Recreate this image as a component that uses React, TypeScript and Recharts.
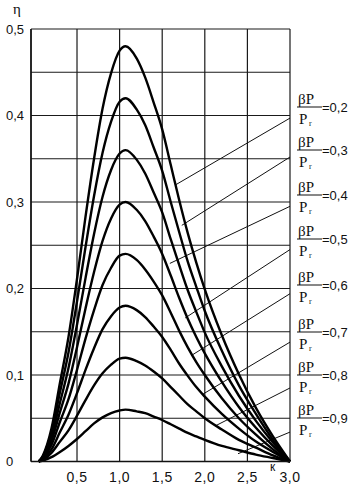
import React from 'react';
import { LineChart, Line, XAxis, YAxis, CartesianGrid, ReferenceLine } from 'recharts';

const kValues = [0.05, 0.1, 0.2, 0.3, 0.4, 0.5, 0.6, 0.7, 0.8, 0.9, 1.0, 1.07, 1.2, 1.3, 1.4, 1.5, 1.6, 1.7, 1.8, 1.9, 2.0, 2.2, 2.4, 2.6, 2.8, 3.0];

const eta02 = [0, 0.007, 0.038, 0.091, 0.144, 0.211, 0.283, 0.350, 0.408, 0.449, 0.475, 0.480, 0.466, 0.444, 0.415, 0.384, 0.343, 0.302, 0.264, 0.230, 0.199, 0.146, 0.101, 0.062, 0.029, 0];
const eta03 = [0, 0.006, 0.034, 0.080, 0.126, 0.185, 0.248, 0.307, 0.357, 0.393, 0.416, 0.420, 0.407, 0.389, 0.363, 0.336, 0.300, 0.265, 0.231, 0.202, 0.174, 0.128, 0.088, 0.055, 0.025, 0];
const eta04 = [0, 0.005, 0.029, 0.068, 0.108, 0.158, 0.212, 0.263, 0.306, 0.337, 0.356, 0.360, 0.349, 0.333, 0.311, 0.288, 0.257, 0.227, 0.198, 0.173, 0.149, 0.110, 0.076, 0.047, 0.022, 0];
const eta05 = [0, 0.005, 0.024, 0.057, 0.090, 0.132, 0.177, 0.219, 0.255, 0.281, 0.297, 0.300, 0.291, 0.278, 0.260, 0.240, 0.215, 0.189, 0.165, 0.144, 0.125, 0.092, 0.063, 0.039, 0.018, 0];
const eta06 = [0, 0.004, 0.019, 0.046, 0.072, 0.106, 0.142, 0.175, 0.204, 0.224, 0.238, 0.240, 0.233, 0.222, 0.208, 0.192, 0.172, 0.151, 0.132, 0.115, 0.100, 0.073, 0.050, 0.031, 0.014, 0];
const eta07 = [0, 0.003, 0.014, 0.034, 0.054, 0.079, 0.106, 0.131, 0.153, 0.168, 0.178, 0.180, 0.175, 0.167, 0.156, 0.144, 0.129, 0.113, 0.099, 0.086, 0.075, 0.055, 0.038, 0.023, 0.011, 0];
const eta08 = [0, 0.002, 0.010, 0.023, 0.036, 0.053, 0.071, 0.088, 0.102, 0.112, 0.119, 0.120, 0.116, 0.111, 0.104, 0.096, 0.086, 0.076, 0.066, 0.058, 0.050, 0.037, 0.025, 0.016, 0.007, 0];
const eta09 = [0, 0.001, 0.005, 0.011, 0.018, 0.026, 0.035, 0.044, 0.051, 0.056, 0.059, 0.060, 0.058, 0.056, 0.052, 0.048, 0.043, 0.038, 0.033, 0.029, 0.025, 0.018, 0.013, 0.008, 0.004, 0];

const seriesList = [eta02, eta03, eta04, eta05, eta06, eta07, eta08, eta09];
const ratioLabels = ['0,2', '0,3', '0,4', '0,5', '0,6', '0,7', '0,8', '0,9'];

// leader lines: start on the right border (k = 3.0), end on the curve
const leaderStartY = [0.397, 0.352, 0.295, 0.245, 0.194, 0.138, 0.085, 0.034];
const leaderEndK = [1.66, 1.73, 1.59, 1.77, 1.85, 1.98, 2.12, 2.39];
const leaderEndY = [0.320, 0.273, 0.229, 0.166, 0.123, 0.078, 0.041, 0.009];

const xTicks = [0.5, 1.0, 1.5, 2.0, 2.5, 3.0];
const yTicks = [0, 0.05, 0.1, 0.15, 0.2, 0.25, 0.3, 0.35, 0.4, 0.45, 0.5];

const data = kValues.map((k, i) => {
  const row: any = { k };
  seriesList.forEach((s, j) => { row['s' + j] = s[i]; });
  return row;
});

const fmt = (v: number) => (v === 0 ? '0' : v.toFixed(1).replace('.', ','));

const sans = 'Liberation Sans, Arial, sans-serif';
const serif = 'Liberation Serif, Times New Roman, serif';

const YTick = (props: any) => {
  const { y, payload } = props;
  const v = payload.value;
  if (Math.round(v * 100) % 10 !== 0) return null;
  return (
    <text x={6} y={y + 4.5} fontSize={13} fontFamily={sans} fill="#111">
      {fmt(v)}
    </text>
  );
};

const XTick = (props: any) => {
  const { x, y, payload } = props;
  return (
    <text x={x} y={y + 12} textAnchor="middle" fontSize={14} fontFamily={sans} fill="#111" letterSpacing={0.5}>
      {payload.value.toFixed(1).replace('.', ',')}
    </text>
  );
};

export default function App() {
  const labelYs = [107, 150, 195, 239, 285, 332, 375, 418];
  return (
    <div style={{ position: 'absolute', left: 0, top: 0, width: 356, height: 488, background: '#fff' }}>
      <LineChart width={356} height={488} data={data} margin={{ top: 29, right: 66, bottom: 0, left: 0 }}>
        <CartesianGrid stroke="#1a1a1a" strokeWidth={1.2} horizontal={true} vertical={true} />
        <XAxis
          dataKey="k"
          type="number"
          domain={[-0.04, 3.0]}
          ticks={xTicks}
          tickLine={false}
          axisLine={{ stroke: '#111', strokeWidth: 1.5 }}
          height={26.5}
          tick={<XTick />}
          interval={0}
        />
        <YAxis
          type="number"
          domain={[0, 0.5]}
          ticks={yTicks}
          tickLine={false}
          axisLine={{ stroke: '#111', strokeWidth: 1.5 }}
          width={31}
          tick={<YTick />}
          interval={0}
        />
        {leaderStartY.map((ys, i) => (
          <ReferenceLine
            key={'ld' + i}
            segment={[{ x: 3.0, y: ys }, { x: leaderEndK[i], y: leaderEndY[i] }]}
            stroke="#111"
            strokeWidth={1}
            ifOverflow="visible"
          />
        ))}
        {seriesList.map((_, j) => (
          <Line
            key={'l' + j}
            dataKey={'s' + j}
            type="monotone"
            stroke="#000"
            strokeWidth={2.4}
            dot={false}
            isAnimationActive={false}
          />
        ))}
      </LineChart>
      <svg width={356} height={488} style={{ position: 'absolute', left: 0, top: 0, pointerEvents: 'none' }}>
        <text x={13} y={14} fontSize={15} fontFamily={serif} fill="#111">η</text>
        <text x={270} y={471} fontSize={12} fontFamily={sans} fill="#111">к</text>
        {ratioLabels.map((lab, i) => {
          const y = labelYs[i];
          return (
            <g key={'rl' + i}>
              <text x={298} y={y - 3} fontSize={15} fontFamily={serif} fill="#111">βP</text>
              <line x1={297} x2={322} y1={y} y2={y} stroke="#111" strokeWidth={1} />
              <text x={299} y={y + 17} fontSize={15} fontFamily={serif} fill="#111">P</text>
              <text x={309} y={y + 19} fontSize={8} fontFamily={serif} fill="#111">r</text>
              <text x={322} y={y + 5} fontSize={13} fontFamily={sans} fill="#111">{'=' + lab}</text>
            </g>
          );
        })}
      </svg>
    </div>
  );
}
